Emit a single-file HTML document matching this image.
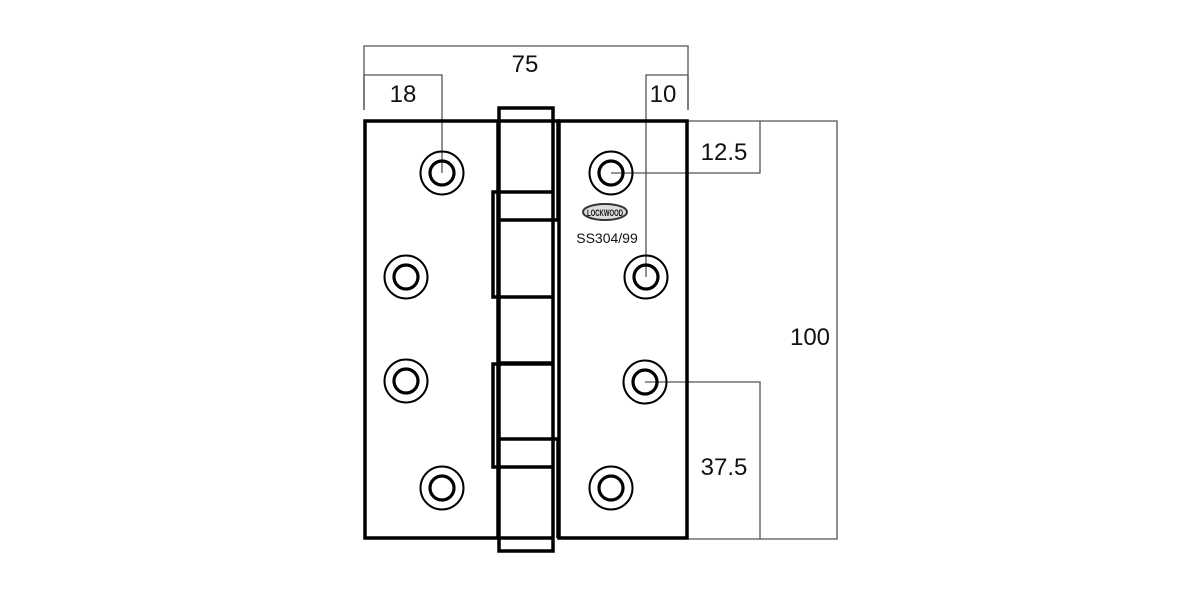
<!DOCTYPE html>
<html><head><meta charset="utf-8"><style>html,body{margin:0;padding:0;background:#fff;}svg{display:block}</style></head>
<body>
<svg width="1200" height="600" viewBox="0 0 1200 600" xmlns="http://www.w3.org/2000/svg">
<rect width="1200" height="600" fill="#fff"/>
<g stroke="#555" stroke-width="1.3" fill="none">
<polyline points="364,110 364,46 688,46 688,110"/>
<polyline points="364,110 364,75 442,75 442,173"/>
<polyline points="646,277 646,75 688,75 688,110"/>
<polyline points="611,173 760,173 760,121"/>
<polyline points="688,121 837,121 837,539 688,539"/>
<polyline points="645,382 760,382 760,539"/>
</g>
<g font-family="Liberation Sans, sans-serif" font-size="24" fill="#111" text-anchor="middle">
<text x="525" y="72">75</text>
<text x="403" y="102">18</text>
<text x="663" y="102">10</text>
<text x="724" y="160">12.5</text>
<text x="810" y="345">100</text>
<text x="724" y="475">37.5</text>
</g>
<g stroke="#000" stroke-width="3.5" fill="none" stroke-linejoin="miter">
<rect x="365" y="121" width="133" height="417"/>
<rect x="559" y="121" width="128" height="417"/>
<rect x="499" y="108" width="54" height="443"/>
<line x1="499" y1="121" x2="553" y2="121"/>
<line x1="499" y1="538" x2="553" y2="538"/>
<polyline points="553,121 558,121 558,220 499,220"/>
<polyline points="553,192 493,192 493,297 553,297"/>
<line x1="499" y1="363" x2="553" y2="363"/>
<polyline points="553,364 493,364 493,467 553,467"/>
<polyline points="499,439 558,439 558,538"/>
</g>
<g fill="none" stroke="#000">
<g stroke-width="2"><circle cx="442" cy="173" r="21.5"/><circle cx="406" cy="277" r="21.5"/><circle cx="406" cy="381" r="21.5"/><circle cx="442" cy="488" r="21.5"/><circle cx="611" cy="173" r="21.5"/><circle cx="646" cy="277" r="21.5"/><circle cx="645" cy="382" r="21.5"/><circle cx="611" cy="488" r="21.5"/></g>
<g stroke-width="3.2"><circle cx="442" cy="173" r="12"/><circle cx="406" cy="277" r="12"/><circle cx="406" cy="381" r="12"/><circle cx="442" cy="488" r="12"/><circle cx="611" cy="173" r="12"/><circle cx="646" cy="277" r="12"/><circle cx="645" cy="382" r="12"/><circle cx="611" cy="488" r="12"/></g>
</g>
<ellipse cx="605" cy="212" rx="22" ry="8" fill="#ddd" stroke="#333" stroke-width="2"/>
<text x="605" y="216" font-family="Liberation Sans, sans-serif" font-size="9" font-weight="bold" fill="#111" text-anchor="middle" textLength="36" lengthAdjust="spacingAndGlyphs">LOCKWOOD</text>
<text x="607" y="243" font-family="Liberation Sans, sans-serif" font-size="14" fill="#111" text-anchor="middle">SS304/99</text>
</svg>
</body></html>
